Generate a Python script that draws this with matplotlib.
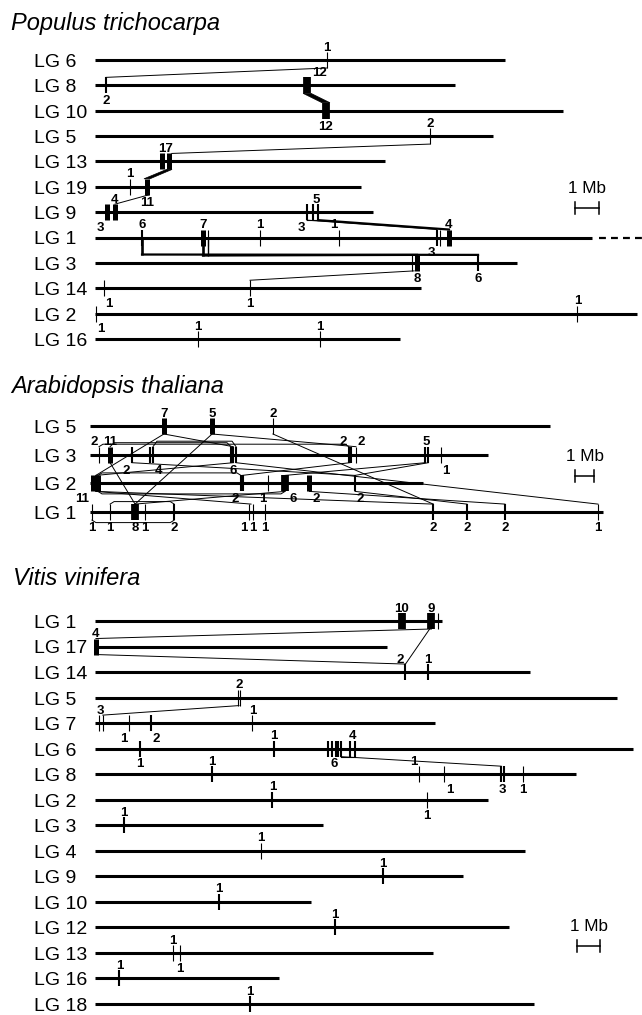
import matplotlib.pyplot as plt
import matplotlib.transforms as mtransforms
from matplotlib.patches import Polygon

plt.rcParams['font.family'] = ['Liberation Sans', 'DejaVu Sans']

W, H = 642, 1015
PX = 72 / 100  # points per pixel at dpi 100

# ---------------- data (positions in Mb) ----------------
# Populus trichocarpa
pt_chroms = ['LG 6', 'LG 8', 'LG 10', 'LG 5', 'LG 13', 'LG 19', 'LG 9',
             'LG 1', 'LG 3', 'LG 14', 'LG 2', 'LG 16']
pt_lengths = [17.1, 15.0, 19.5, 16.6, 12.1, 11.1, 11.6, 20.7, 17.6, 13.6, 22.6, 12.7]
pt_continued = ('LG 1', 21.0, 22.8)
# (chromosome, tick positions, count, kind, label side)
pt_markers = [
    ('LG 6', [9.67], '1', 't', 'a'),
    ('LG 8', [0.46], '2', 'm', 'b'),
    ('LG 8', [8.83], '12', 'B', 'ar'),
    ('LG 10', [9.62], '12', 'B', 'b'),
    ('LG 5', [13.96], '2', 't', 'a'),
    ('LG 13', [2.79, 3.08], '17', 'b', 'a'),
    ('LG 19', [1.46], '1', 't', 'a'),
    ('LG 19', [2.17], '11', 'b', 'b'),
    ('LG 9', [0.5], '3', 'b', 'bl'),
    ('LG 9', [0.83], '4', 'b', 'a'),
    ('LG 9', [8.83], '3', 'm', 'bl'),
    ('LG 9', [9.1, 9.31], '5', 'm', 'a'),
    ('LG 1', [1.96], '6', 'm', 'a'),
    ('LG 1', [4.5], '7', 'b', 'a'),
    ('LG 1', [4.72], '', 't', 'a'),
    ('LG 1', [6.88], '1', 't', 'a'),
    ('LG 1', [10.17], '1', 't', 'al'),
    ('LG 1', [14.25], '3', 'm', 'bl'),
    ('LG 1', [14.38], '', 't', 'a'),
    ('LG 1', [14.75], '4', 'b', 'a'),
    ('LG 3', [13.22], '', 't', 'a'),
    ('LG 3', [13.42], '8', 'b', 'b'),
    ('LG 3', [15.96], '6', 'm', 'b'),
    ('LG 14', [0.38], '1', 't', 'br'),
    ('LG 14', [6.46], '1', 't', 'b'),
    ('LG 2', [0.04], '1', 't', 'br'),
    ('LG 2', [20.1], '1', 't', 'a'),
    ('LG 16', [4.3], '1', 't', 'a'),
    ('LG 16', [9.38], '1', 't', 'a'),
]
pt_links = [
    ('LG 6', 9.67, 'LG 8', 0.46, 't'),
    ('LG 5', 13.96, 'LG 13', 3.2, 't'),
    ('LG 19', 2.25, 'LG 9', 0.83, 't'),
    ('LG 9', 8.83, 'LG 1', 14.25, 't'),
    ('LG 9', 9.31, 'LG 1', 14.75, 'm'),
    ('LG 1', 1.96, 'LG 3', 15.96, 'm'),
    ('LG 1', 4.5, 'LG 3', 13.42, 'm'),
    ('LG 1', 4.72, 'LG 3', 13.22, 't'),
    ('LG 3', 13.3, 'LG 14', 6.46, 't'),
]
pt_bands = [
    ('LG 8', 8.67, 9.0, 'LG 10', 9.46, 9.79),
    ('LG 13', 2.98, 3.21, 'LG 19', 2.04, 2.29),
]
pt_brackets = [('LG 9', 8.83, 9.31, 'flat')]

# Arabidopsis thaliana
at_chroms = ['LG 5', 'LG 3', 'LG 2', 'LG 1']
at_lengths = [23.6, 20.4, 17.1, 26.3]
at_markers = [
    ('LG 5', [3.79], '7', 'b', 'a'),
    ('LG 5', [6.26], '5', 'b', 'a'),
    ('LG 5', [9.38], '2', 't', 'a'),
    ('LG 3', [0.46], '2', 't', 'al'),
    ('LG 3', [1.03], '11', 'b', 'a'),
    ('LG 3', [2.15], '2', 'm', 'bl'),
    ('LG 3', [3.08, 3.23], '4', 'm', 'br'),
    ('LG 3', [7.23, 7.35, 7.49], '6', 'm', 'b'),
    ('LG 3', [13.28, 13.38], '2', 'm', 'al'),
    ('LG 3', [13.64], '2', 't', 'ar'),
    ('LG 3', [17.18, 17.35], '5', 'm', 'a'),
    ('LG 3', [18.0], '1', 't', 'br'),
    ('LG 2', [0.15, 0.41], '11', 'b', 'bl'),
    ('LG 2', [7.74, 7.86], '2', 'm', 'bl'),
    ('LG 2', [9.13], '1', 't', 'bl'),
    ('LG 2', [10.0], '6', 'B', 'br'),
    ('LG 2', [11.25], '2', 'b', 'br'),
    ('LG 2', [13.59], '2', 'm', 'br'),
    ('LG 1', [0.1], '1', 't', 'b'),
    ('LG 1', [1.03], '1', 't', 'b'),
    ('LG 1', [2.31], '8', 'B', 'b'),
    ('LG 1', [2.82], '1', 't', 'b'),
    ('LG 1', [4.32], '2', 'm', 'b'),
    ('LG 1', [8.17], '1', 't', 'bl'),
    ('LG 1', [8.34], '1', 't', 'b'),
    ('LG 1', [8.97], '1', 't', 'b'),
    ('LG 1', [17.6], '2', 'm', 'b'),
    ('LG 1', [19.33], '2', 'm', 'b'),
    ('LG 1', [21.28], '2', 'm', 'b'),
    ('LG 1', [26.05], '1', 't', 'b'),
]
at_links = [
    ('LG 5', 3.79, 'LG 3', 7.35, 't'),
    ('LG 5', 3.79, 'LG 2', 0.3, 't'),
    ('LG 5', 6.26, 'LG 1', 2.31, 't'),
    ('LG 5', 6.26, 'LG 3', 13.64, 't'),
    ('LG 5', 9.38, 'LG 1', 17.6, 't'),
    ('LG 3', 1.03, 'LG 1', 2.31, 't'),
    ('LG 3', 2.15, 'LG 2', 13.59, 't'),
    ('LG 3', 7.35, 'LG 2', 0.3, 't'),
    ('LG 3', 7.49, 'LG 1', 26.05, 't'),
    ('LG 3', 13.33, 'LG 2', 7.8, 't'),
    ('LG 3', 17.2, 'LG 2', 10.0, 't'),
    ('LG 3', 17.35, 'LG 2', 13.59, 't'),
    ('LG 2', 0.3, 'LG 1', 8.26, 't'),
    ('LG 2', 0.3, 'LG 1', 17.6, 't'),
    ('LG 2', 10.0, 'LG 1', 2.31, 't'),
    ('LG 2', 11.25, 'LG 1', 21.28, 't'),
    ('LG 2', 13.59, 'LG 1', 19.33, 't'),
]
at_bands = []
at_brackets = [
    ('LG 3', 0.46, 13.28, 'top'),
    ('LG 3', 1.03, 7.23, 'top'),
    ('LG 3', 3.23, 7.49, 'top'),
    ('LG 2', 0.41, 7.74, 'top'),
    ('LG 2', 0.41, 10.0, 'bot'),
    ('LG 1', 1.03, 4.32, 'top'),
    ('LG 1', 0.1, 4.32, 'bot'),
]

# Vitis vinifera
vv_chroms = ['LG 1', 'LG 17', 'LG 14', 'LG 5', 'LG 7', 'LG 6', 'LG 8', 'LG 2',
             'LG 3', 'LG 4', 'LG 9', 'LG 10', 'LG 12', 'LG 13', 'LG 16', 'LG 18']
vv_lengths = [15.1, 12.7, 18.9, 22.7, 14.8, 23.4, 20.9, 17.1,
              9.9, 18.7, 16.0, 9.4, 18.0, 14.7, 8.0, 19.1]
vv_markers = [
    ('LG 1', [13.33], '10', 'B', 'a'),
    ('LG 1', [14.63], '9', 'B', 'a'),
    ('LG 1', [14.93], '', 't', 'a'),
    ('LG 17', [0.04], '4', 'b', 'a'),
    ('LG 14', [13.5], '2', 'm', 'al'),
    ('LG 14', [14.48], '1', 'm', 'a'),
    ('LG 5', [6.21, 6.3], '2', 't', 'a'),
    ('LG 7', [0.16, 0.34], '3', 't', 'a'),
    ('LG 7', [1.47], '1', 't', 'bl'),
    ('LG 7', [2.42], '2', 'm', 'br'),
    ('LG 7', [6.84], '1', 't', 'a'),
    ('LG 6', [1.95], '1', 'm', 'b'),
    ('LG 6', [7.77], '1', 'm', 'a'),
    ('LG 6', [10.15, 10.29, 10.5, 10.58, 10.68], '6', 'm', 'b'),
    ('LG 6', [11.08, 11.31], '4', 'm', 'a'),
    ('LG 8', [5.08], '1', 'm', 'a'),
    ('LG 8', [14.07], '1', 't', 'al'),
    ('LG 8', [15.19], '1', 't', 'br'),
    ('LG 8', [17.66, 17.77], '3', 'm', 'b'),
    ('LG 8', [18.59], '1', 't', 'b'),
    ('LG 2', [7.71], '1', 'm', 'a'),
    ('LG 2', [14.42], '1', 't', 'b'),
    ('LG 3', [1.27], '1', 'm', 'a'),
    ('LG 4', [7.23], '1', 't', 'a'),
    ('LG 9', [12.51], '1', 'm', 'a'),
    ('LG 10', [5.39], '1', 'm', 'a'),
    ('LG 12', [10.42], '1', 'm', 'a'),
    ('LG 13', [3.38], '1', 't', 'a'),
    ('LG 13', [3.69], '1', 't', 'b'),
    ('LG 16', [1.06], '1', 'm', 'a'),
    ('LG 18', [6.73], '1', 'm', 'a'),
]
vv_links = [
    ('LG 1', 14.63, 'LG 17', 0.04, 't'),
    ('LG 1', 14.55, 'LG 14', 13.5, 't'),
    ('LG 17', 0.04, 'LG 14', 13.5, 't'),
    ('LG 5', 6.26, 'LG 7', 0.34, 't'),
    ('LG 6', 10.68, 'LG 8', 17.66, 't'),
]
vv_bands = []
vv_brackets = [('LG 6', 10.68, 11.31, 'flat')]

# ---------------- styles ----------------
CHROM_LW = 2.2
KIND_LW = {'t': 0.8, 'm': 1.5, 'b': 3.6, 'B': 5.6}
LINK_LW = {'t': 0.7, 'm': 1.6}
TICK_PX = 8
NUM_SIZE = 9.5
NUM_CAP = NUM_SIZE * 0.716
LG_SIZE = 14
MB_SIZE = 12.3
TITLE_SIZE = 17

fig = plt.figure(figsize=(W / 100, H / 100), dpi=100)


def panel_axes(x0, s, y0, dy):
    ax = fig.add_axes([0, 0, 1, 1])
    ax.set_xlim(-x0 / s, (W - x0) / s)
    ax.set_ylim((H - y0) / dy, -y0 / dy)
    ax.axis('off')
    return ax


def draw_panel(ax, chroms, lengths, markers, links, bands, brackets, s, dy,
               drops=None, scalebar=None):
    drops = drops or {}
    row = {c: i for i, c in enumerate(chroms)}
    h = TICK_PX / dy
    lab_tr = mtransforms.blended_transform_factory(fig.transFigure, ax.transData)

    # chromosomes and their names
    for c, L in zip(chroms, lengths):
        r = row[c]
        ax.plot([0, L], [r, r], color='black', lw=CHROM_LW, solid_capstyle='butt')
        ax.annotate(c, xy=(34 / W, r), xycoords=lab_tr,
                    xytext=(0, -LG_SIZE * 0.716 / 2), textcoords='offset points',
                    ha='left', va='baseline', fontsize=LG_SIZE)

    # links between duplicated regions
    for a, pa, b, pb, w in links:
        drop = drops.get((a, pa), TICK_PX)
        y1 = row[a] + drop / dy
        if drop > TICK_PX:
            ax.plot([pa, pa], [row[a], y1], color='black', lw=LINK_LW[w] + 0.3,
                    solid_capstyle='butt')
        ax.plot([pa, pb], [y1, row[b] - h], color='black', lw=LINK_LW[w])

    for a, a1, a2, b, b1, b2 in bands:
        ax.add_patch(Polygon([(a1, row[a] + h), (a2, row[a] + h),
                              (b2, row[b] - h), (b1, row[b] - h)],
                             closed=True, fc='black', ec='black', lw=0.5))

    # same-chromosome brackets
    count = {}
    for c, p1, p2, side in brackets:
        r = row[c]
        if side == 'flat':
            ax.plot([p1, p2], [r + h, r + h], color='black', lw=0.8)
            continue
        k = count.get((c, side), 0)
        count[(c, side)] = k + 1
        sign = -1 if side == 'top' else 1
        rise = (2.5 + 1.5 * k) / dy
        d = 4 / s
        ax.plot([p1, p1 + d, p2 - d, p2],
                [r + sign * h, r + sign * (h + rise), r + sign * (h + rise), r + sign * h],
                color='black', lw=0.7)

    # gene ticks and counts
    for c, pos, label, kind, side in markers:
        r = row[c]
        for p in pos:
            ax.plot([p, p], [r - h, r + h], color='black', lw=KIND_LW[kind],
                    solid_capstyle='butt')
        if not label:
            continue
        xc = (min(pos) + max(pos)) / 2
        half = (max(pos) - min(pos)) / 2 * s * PX + KIND_LW[kind] / 2
        if side.endswith('l'):
            dx, ha = -(half + 0.6), 'right'
        elif side.endswith('r'):
            dx, ha = half + 0.6, 'left'
        else:
            dx, ha = 0, 'center'
        if side.startswith('a'):
            xy, dy_off = (xc, r - h), 1.0
        else:
            xy, dy_off = (xc, r + h), -(1.0 + NUM_CAP)
        ax.annotate(label, xy=xy, xytext=(dx, dy_off), textcoords='offset points',
                    ha=ha, va='baseline', fontsize=NUM_SIZE, fontweight='bold')

    if scalebar is not None:
        sx, sy = scalebar
        cap = 6 / dy
        ax.plot([sx, sx + 1], [sy, sy], color='black', lw=1.1)
        ax.plot([sx, sx], [sy - cap, sy + cap], color='black', lw=1.1)
        ax.plot([sx + 1, sx + 1], [sy - cap, sy + cap], color='black', lw=1.1)
        ax.annotate('1 Mb', xy=(sx + 0.5, sy), xytext=(0, 14.8 * PX),
                    textcoords='offset points', ha='center', va='baseline',
                    fontsize=MB_SIZE)


# Populus panel
ax_pt = panel_axes(95, 24, 60, 25.36)
draw_panel(ax_pt, pt_chroms, pt_lengths, pt_markers, pt_links, pt_bands,
           pt_brackets, 24, 25.36,
           drops={('LG 1', 1.96): 17, ('LG 1', 4.5): 18, ('LG 1', 4.72): 18},
           scalebar=(20.0, 5.84))
c, x1, x2 = pt_continued
ax_pt.plot([x1, x2], [pt_chroms.index(c)] * 2, color='black', lw=1.6,
           ls=(0, (3.1, 2.3)))

# Arabidopsis panel
ax_at = panel_axes(90, 19.5, 426, 28.7)
draw_panel(ax_at, at_chroms, at_lengths, at_markers, at_links, at_bands,
           at_brackets, 19.5, 28.7, scalebar=(24.87, 1.74))

# Vitis panel
ax_vv = panel_axes(95, 23, 621, 25.53)
draw_panel(ax_vv, vv_chroms, vv_lengths, vv_markers, vv_links, vv_bands,
           vv_brackets, 23, 25.53, scalebar=(20.96, 12.73))

# panel titles
for name, x, yb in [('Populus trichocarpa', 11, 30),
                    ('Arabidopsis thaliana', 11, 393),
                    ('Vitis vinifera', 13, 585)]:
    fig.text(x / W, 1 - yb / H, name, fontsize=TITLE_SIZE, style='italic',
             ha='left', va='baseline')

fig.savefig('out.png', dpi=100, facecolor='white')
